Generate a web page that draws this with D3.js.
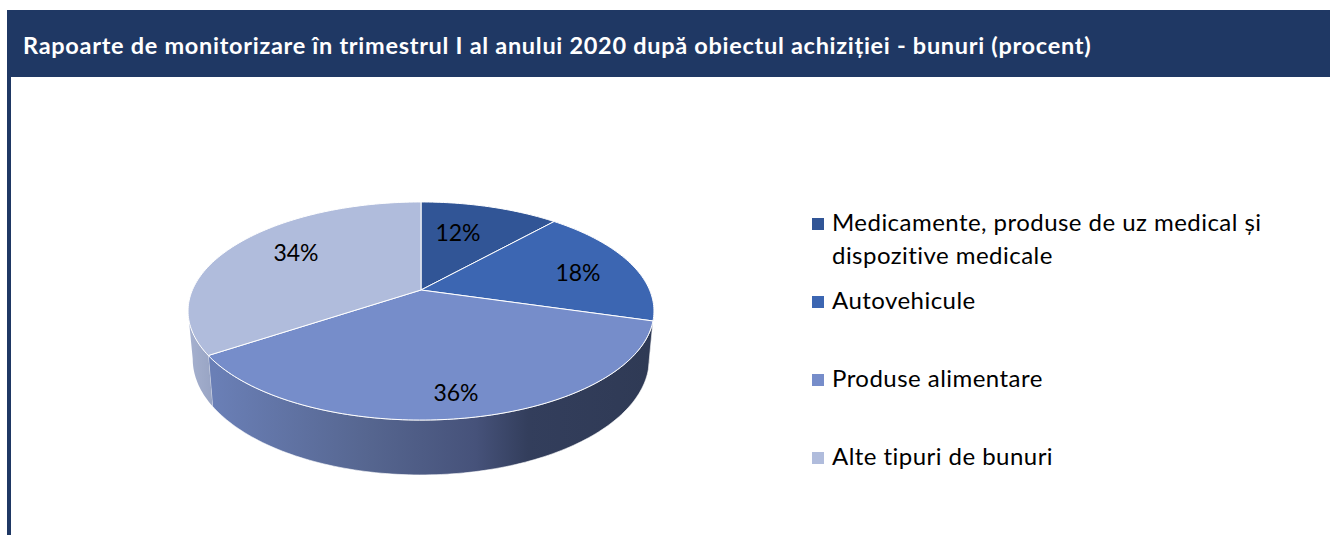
<!DOCTYPE html>
<html>
<head>
<meta charset="utf-8">
<script src="https://cdn.jsdelivr.net/npm/d3@7"></script>
<style>
  body { margin: 0; background: #fff; }
  text { font-family: Lato, "Noto Sans", sans-serif; }
</style>
</head>
<body>
<div id="wrapper"></div>
<script>
const TITLE = "Rapoarte de monitorizare în trimestrul I al anului 2020 după obiectul achiziției - bunuri (procent)";
const categories = ["Medicamente, produse de uz medical și|dispozitive medicale", "Autovehicule", "Produse alimentare", "Alte tipuri de bunuri"];
const values = [11.6, 17.9, 36.1, 34.4];
const colors = ["#315596", "#3c66b2", "#768dca", "#b0bcdc"];
// where excel put the data labels
const labelSpots = [[458, 241], [578, 281], [456, 401], [296, 261]];
const legendRows = [231, 309, 387, 465];

const width = 1330;
const height = 535;
const wrapper = d3.select("#wrapper").append("svg")
  .attr("width", width)
  .attr("height", height)
  .style("display", "block");

// header and left rule
wrapper.append("rect").attr("x", 7).attr("y", 77).attr("width", 4).attr("height", height - 77).attr("fill", "#1f3864");
wrapper.append("rect").attr("x", 7).attr("y", 10).attr("width", width - 7).attr("height", 67).attr("fill", "#1f3864");
wrapper.append("text")
  .attr("x", 23).attr("y", 54)
  .attr("fill", "#fff")
  .style("font-size", "23.5px")
  .style("font-weight", 700)
  .style("letter-spacing", "0.71px")
  .text(TITLE);

// pie is tilted with perspective: the near half comes out bigger, so centre isn't mid-ellipse
const perspective = -0.1927;
const xTop = d3.scaleLinear().domain([-1, 1]).range([421 - 228.6, 421 + 228.6]);
const yTop = d3.scaleLinear().domain([-1, 1]).range([290 - 105, 290 + 105]);
const xBottom = d3.scaleLinear().domain([-1, 1]).range([421 - 224, 421 + 224]);
const yBottom = d3.scaleLinear().domain([-1, 1]).range([336.7 - 111.6, 336.7 + 111.6]);

const project = (angle, r, xs, ys) => {
  const u = r * Math.sin(angle);
  const v = -r * Math.cos(angle);
  const w = 1 + perspective * v;
  return [xs(u / w), ys(v / w)];
};

const rim = (a0, a1, xs, ys) => {
  const n = Math.max(2, Math.ceil((a1 - a0) / 0.02));
  return d3.range(n + 1).map(i => project(a0 + (a1 - a0) * i / n, 1, xs, ys));
};

const slices = d3.pie().sort(null).value(d => d)(values);
const line = d3.line();

// the rim only shows between the two points where the ellipse is widest
const sideStart = Math.acos(perspective);
const sideEnd = 2 * Math.PI - sideStart;
const sideArc = d => [Math.max(d.startAngle, sideStart), Math.min(d.endAngle, sideEnd)];

const defs = wrapper.append("defs");
const addGradient = (id, x1, x2, stops) => {
  const g = defs.append("linearGradient")
    .attr("id", id)
    .attr("gradientUnits", "userSpaceOnUse")
    .attr("x1", x1).attr("x2", x2).attr("y1", 0).attr("y2", 0);
  stops.forEach(s => g.append("stop").attr("offset", s[0]).attr("stop-color", s[1]));
};
addGradient("side-2", 214, 650, [[0, "#6a7fb6"], [0.35, "#566690"], [0.6, "#46527a"], [0.72, "#333e5c"], [1, "#2f3a55"]]);
addGradient("side-3", 188, 216, [[0, "#a6b1cf"], [1, "#96a2c2"]]);
const sideFills = ["#24396a", "#2f3a55", "url(#side-2)", "url(#side-3)"];

// sides go first, the top faces are painted over them
const bounds = wrapper.append("g");
bounds.selectAll("path.side")
  .data(slices.filter(d => sideArc(d)[0] < sideArc(d)[1]))
  .join("path")
  .attr("class", "side")
  .attr("d", d => line([
    ...rim(...sideArc(d), xTop, yTop),
    ...rim(...sideArc(d), xBottom, yBottom).reverse()
  ]) + "Z")
  .attr("fill", d => sideFills[d.index])
  .attr("stroke", d => d.index == 2 ? "#fff" : "none")
  .attr("stroke-width", 0.6);

bounds.selectAll("path.top")
  .data(slices)
  .join("path")
  .attr("class", "top")
  .attr("d", d => line([
    project(0, 0, xTop, yTop),
    ...rim(d.startAngle, d.endAngle, xTop, yTop)
  ]) + "Z")
  .attr("fill", (d, i) => colors[i])
  .attr("stroke", "#fff")
  .attr("stroke-width", 1);

bounds.selectAll("text")
  .data(slices)
  .join("text")
  .attr("x", (d, i) => labelSpots[i][0])
  .attr("y", (d, i) => labelSpots[i][1])
  .attr("text-anchor", "middle")
  .attr("fill", "#000")
  .style("font-size", "23px")
  .text(d => d3.format(".0f")(d.value) + "%");

// legend, rows aren't evenly spaced because the first one wraps
const legend = wrapper.append("g").selectAll("g")
  .data(categories)
  .join("g")
  .attr("transform", (d, i) => `translate(812, ${legendRows[i]})`);

legend.append("rect")
  .attr("y", -13)
  .attr("width", 12)
  .attr("height", 12)
  .attr("fill", (d, i) => colors[i]);

legend.selectAll("text")
  .data(d => d.split("|"))
  .join("text")
  .attr("x", 20)
  .attr("y", (d, i) => i * 33)
  .attr("fill", "#000")
  .style("font-size", "24px")
  .style("letter-spacing", "0.46px")
  .text(d => d);
</script>
</body>
</html>
